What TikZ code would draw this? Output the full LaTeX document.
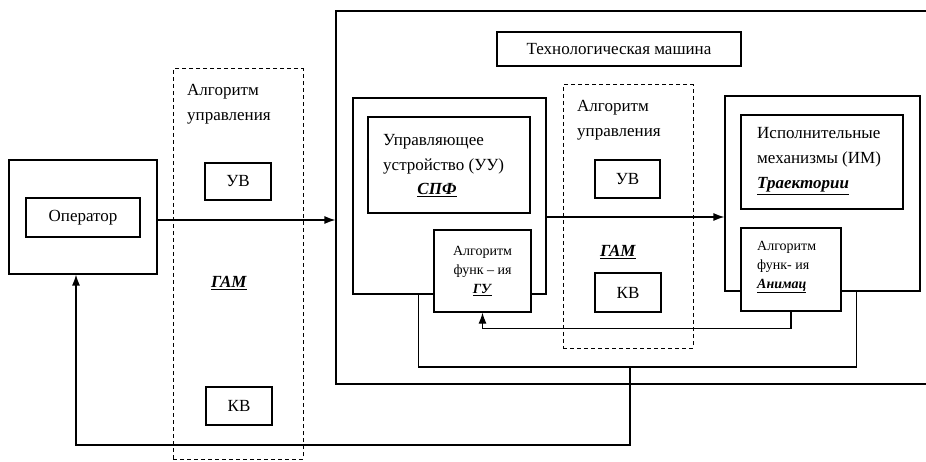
\documentclass[tikz,border=0pt]{standalone}
\usepackage{fontspec}
\setmainfont{Liberation Serif}
\usetikzlibrary{arrows.meta,positioning,calc,fit}
\newcommand{\keyterm}[1]{\underline{\textbf{\textit{#1}}}}

\begin{document}
\begin{tikzpicture}[x=1pt,y=-1pt,
  box/.style={draw,line width=1.2pt,inner sep=0pt,fill=white},
  algbox/.style={draw,line width=1pt,dash pattern=on 4pt off 3pt,inner sep=0pt},
  txt/.style={font=\fontsize{17}{25}\selectfont,inner sep=0pt},
  smalltxt/.style={font=\fontsize{14}{19}\selectfont,inner sep=0pt},
  wire/.style={line width=1.2pt},
  flow/.style={line width=1.2pt,-{Latex[length=11pt,width=8pt]}}]
  \clip (0,0) rectangle (926,462);

  % Operator
  \node[box,fit={(9,160) (157,274)}] (opouter) {};
  \node[box,fit={(26,198) (140,237)}] (op) {};
  \node[txt] (optxt) at (op.center) {Оператор};

  % Control algorithm between operator and machine
  \node[algbox,fit={(173,69) (303,459)}] (algout) {};
  \node[txt,anchor=west,align=left] (algouttxt) at (187,104) {Алгоритм\\управления};
  \node[box,fit={(205,163) (271,200)}] (uvout) {};
  \node[txt] (uvouttxt) at (uvout.center) {УВ};
  \node[txt] (gamout) at (229,283) {\keyterm{ГАМ}};
  \node[box,fit={(206,387) (272,425)}] (kvout) {};
  \node[txt] (kvouttxt) at (kvout.center) {КВ};

  % Technological machine (runs past the right edge)
  \node[box,fit={(336,11) (940,384)}] (tm) {};
  \node[box,fit={(497,32) (741,66)}] (tmtitle) {};
  \node[txt] (tmtxt) at (tmtitle.center) {Технологическая машина};

  % Control unit
  \node[box,fit={(353,98) (546,294)}] (uuout) {};
  \node[box,fit={(368,117) (530,213)}] (uu) {};
  \node[txt,anchor=west,align=left] (uutxt) at (383,154) {Управляющее\\устройство (УУ)};
  \node[txt] (spf) at (437,190) {\keyterm{СПФ}};
  \node[box,fit={(434,230) (531,312)}] (gu) {};
  \node[smalltxt,align=center] (gutxt) at (gu.center) {Алгоритм\\функ – ия\\\keyterm{ГУ}};

  % Control algorithm inside the machine
  \node[algbox,fit={(563,85) (693,348)}] (algin) {};
  \node[txt,anchor=west,align=left] (algintxt) at (577,120) {Алгоритм\\управления};
  \node[box,fit={(595,160) (660,198)}] (uvin) {};
  \node[txt] (uvintxt) at (uvin.center) {УВ};
  \node[txt] (gamin) at (618,252) {\keyterm{ГАМ}};
  \node[box,fit={(595,273) (661,312)}] (kvin) {};
  \node[txt] (kvintxt) at (kvin.center) {КВ};

  % Actuators
  \node[box,fit={(725,96) (920,291)}] (imout) {};
  \node[box,fit={(741,115) (903,209)}] (im) {};
  \node[txt,anchor=west,align=left] (imtxt) at (757,161) {Исполнительные\\механизмы (ИМ)\\\keyterm{Траектории}};
  \node[box,fit={(741,228) (841,311)}] (anim) {};
  \node[smalltxt,anchor=west,align=left] (animtxt) at (757,267) {Алгоритм\\функ- ия\\\keyterm{Анимац}};

  % Forward links
  \draw[flow] ([yshift=-3pt]opouter.east) -- ([yshift=-3pt]opouter.east -| tm.west);
  \draw[flow] ([yshift=-21pt]uuout.east) -- ([yshift=-21pt]uuout.east -| imout.west);

  % Feedback links
  \draw[flow] (anim.south) -- ++(0,17) -| (gu.south);
  \coordinate (fb) at (630,367);
  \draw[wire] ([xshift=34pt]imout.south) |- (fb) -| ([xshift=-31pt]uuout.south);
  \draw[flow] (fb) -- ++(0,78) -| ([xshift=-7pt]opouter.south);
\end{tikzpicture}
\end{document}
